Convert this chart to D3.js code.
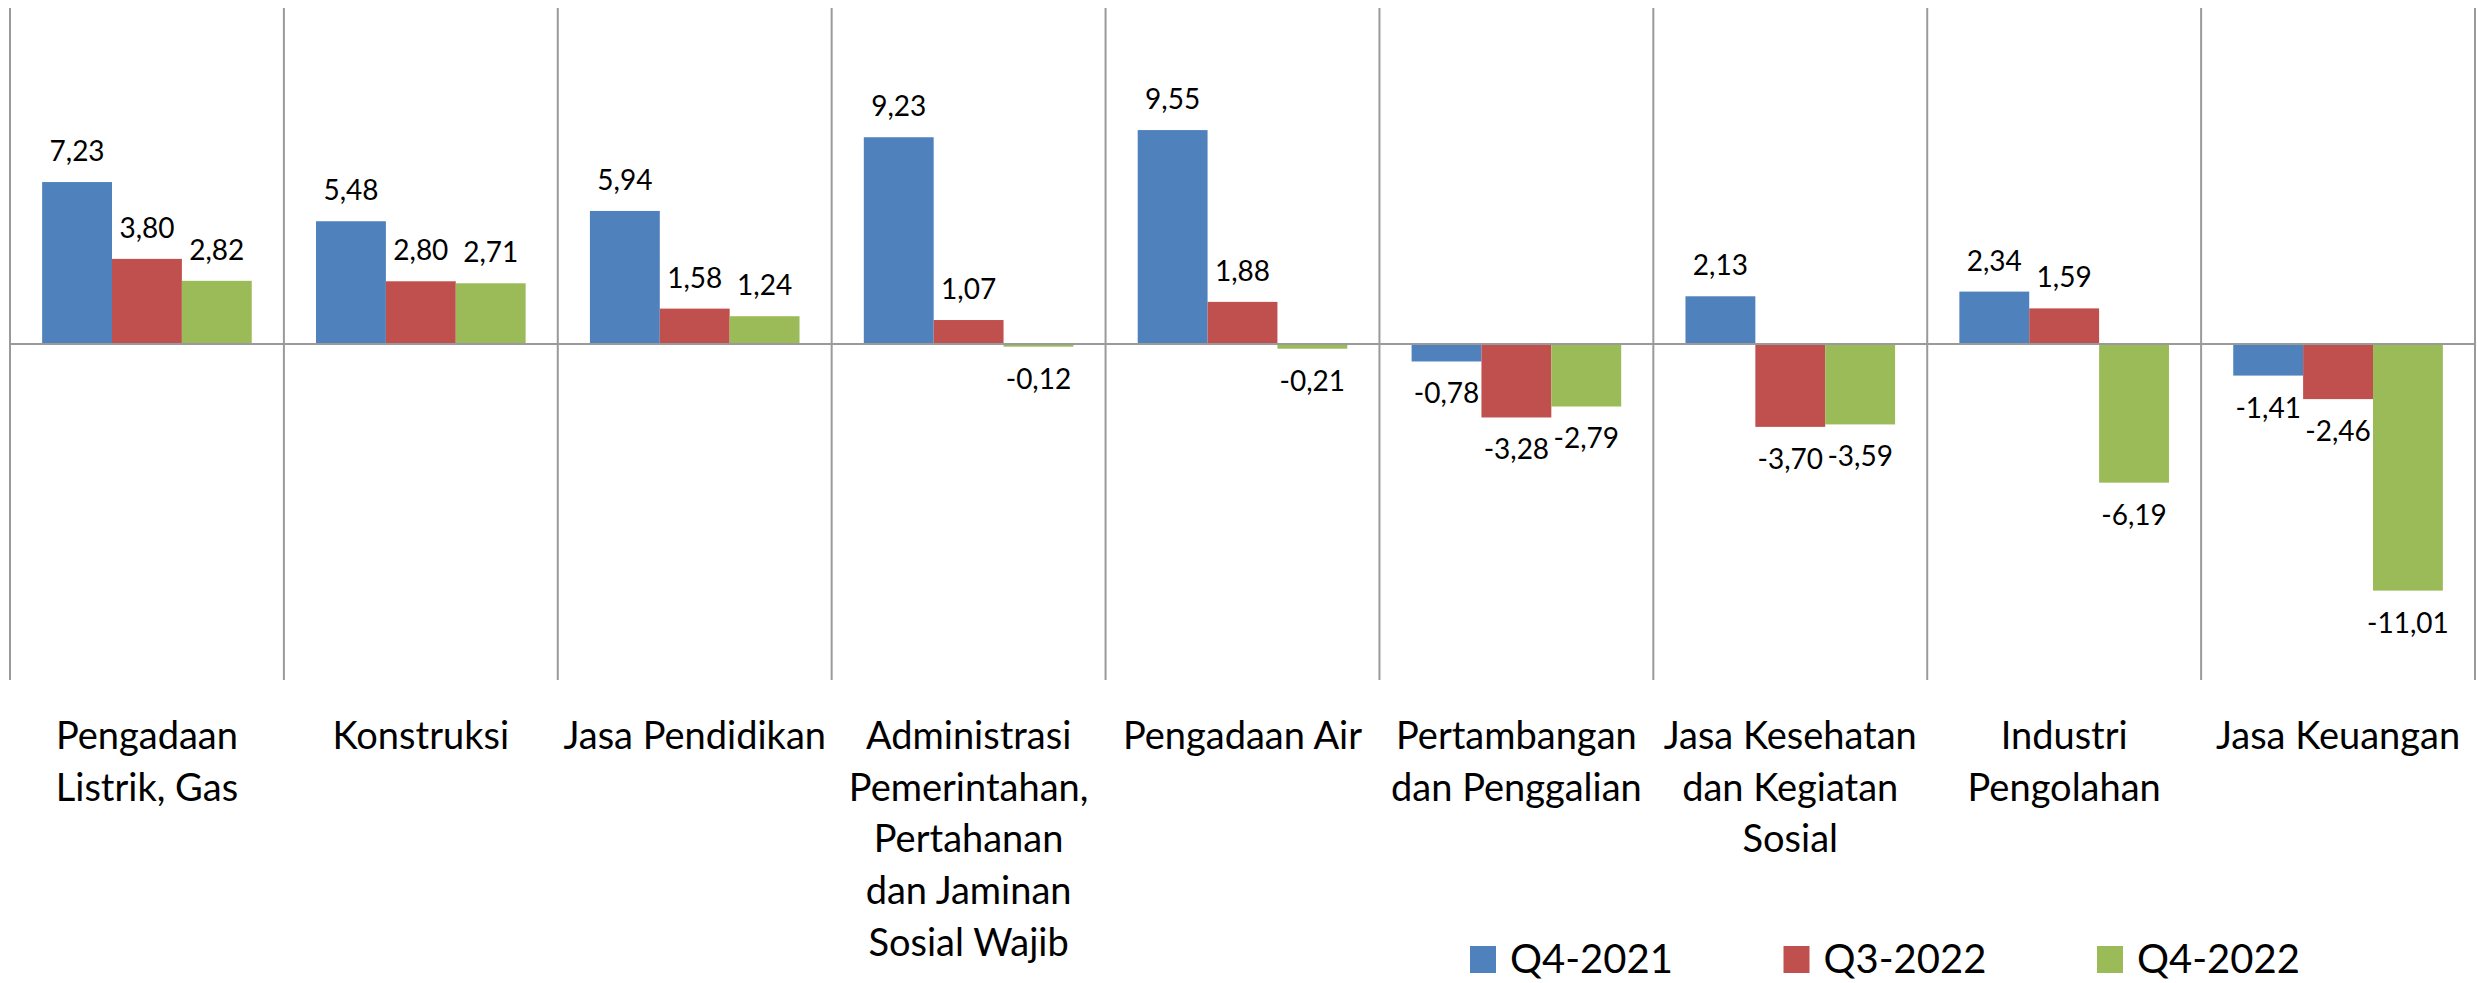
<!DOCTYPE html>
<html>
<head>
<meta charset="utf-8">
<script src="https://cdn.jsdelivr.net/npm/d3@7"></script>
<style>
  body { margin: 0; background: #fff; }
  text { font-family: Lato, "Open Sans", sans-serif; fill: #000; }
</style>
</head>
<body>
<div id="chart"></div>
<script>
var svgWidth = 2477;
var svgHeight = 983;

// categories, and how each one breaks over lines under the axis
var categories = ["Pengadaan Listrik, Gas", "Konstruksi", "Jasa Pendidikan",
    "Administrasi Pemerintahan, Pertahanan dan Jaminan Sosial Wajib", "Pengadaan Air",
    "Pertambangan dan Penggalian", "Jasa Kesehatan dan Kegiatan Sosial",
    "Industri Pengolahan", "Jasa Keuangan"];
var categoryLines = [
    ["Pengadaan", "Listrik, Gas"],
    ["Konstruksi"],
    ["Jasa Pendidikan"],
    ["Administrasi", "Pemerintahan,", "Pertahanan", "dan Jaminan", "Sosial Wajib"],
    ["Pengadaan Air"],
    ["Pertambangan", "dan Penggalian"],
    ["Jasa Kesehatan", "dan Kegiatan", "Sosial"],
    ["Industri", "Pengolahan"],
    ["Jasa Keuangan"]
];
var seriesNames = ["Q4-2021", "Q3-2022", "Q4-2022"];
var q4_2021 = [7.23, 5.48, 5.94, 9.23, 9.55, -0.78, 2.13, 2.34, -1.41];
var q3_2022 = [3.80, 2.80, 1.58, 1.07, 1.88, -3.28, -3.70, 1.59, -2.46];
var q4_2022 = [2.82, 2.71, 1.24, -0.12, -0.21, -2.79, -3.59, -6.19, -11.01];
var yDomain = [-15, 15];

var colors = ["#4F81BD", "#C0504D", "#9BBB59"];
var gridColor = "#9a9a9a";

var series = [q4_2021, q3_2022, q4_2022];
var margin = ({top: 8, left: 10, right: 2475, bottom: 680});

var x0 = d3.scaleBand()
    .domain(categories)
    .range([margin.left, margin.right])
    .padding(0);
var x1 = d3.scaleBand()
    .domain(seriesNames)
    .range([0, x0.bandwidth()])
    .paddingInner(0)
    .paddingOuter(0.46);
var y = d3.scaleLinear()
    .domain(yDomain)
    .range([margin.bottom, margin.top]);

var fmt = d3.format(".2f");
// comma decimal and a plain hyphen for the sign, as in the source
function label(v) { return fmt(v).replace("\u2212", "-").replace(".", ","); }

var svg = d3.select("#chart").append("svg")
    .attr("width", svgWidth)
    .attr("height", svgHeight);

// vertical separators between categories
var edges = categories.map(c => x0(c)).concat([x0(categories[categories.length - 1]) + x0.bandwidth()]);
svg.append("g").attr("class", "grid")
    .selectAll("line")
    .data(edges)
    .enter().append("line")
    .attr("x1", d => d).attr("x2", d => d)
    .attr("y1", y(yDomain[1])).attr("y2", y(yDomain[0]))
    .attr("stroke", gridColor)
    .attr("stroke-width", 2);

// bars
var rows = categories.map((c, i) => ({
    cat: c,
    vals: seriesNames.map((s, j) => ({name: s, value: series[j][i], idx: j}))
}));
var groups = svg.selectAll(".catg")
    .data(rows)
    .enter().append("g")
    .attr("class", "catg")
    .attr("transform", d => "translate(" + x0(d.cat) + ",0)");

groups.selectAll("rect")
    .data(d => d.vals)
    .enter().append("rect")
    .attr("x", d => x1(d.name))
    .attr("y", d => y(Math.max(0, d.value)))
    .attr("width", x1.bandwidth())
    .attr("height", d => Math.abs(y(d.value) - y(0)))
    .attr("fill", d => colors[d.idx]);

groups.selectAll(".vlabel")
    .data(d => d.vals)
    .enter().append("text")
    .attr("class", "vlabel")
    .attr("x", d => x1(d.name) + x1.bandwidth() / 2)
    .attr("y", d => d.value >= 0 ? y(d.value) - 21 : y(d.value) + 42)
    .attr("text-anchor", "middle")
    .style("font-size", "28px")
    .text(d => label(d.value));

// zero line
svg.append("line")
    .attr("x1", margin.left).attr("x2", margin.right)
    .attr("y1", y(0)).attr("y2", y(0))
    .attr("stroke", gridColor)
    .attr("stroke-width", 2);

// category labels
var catText = svg.append("g").attr("class", "cats")
    .selectAll("text")
    .data(categories)
    .enter().append("text")
    .attr("text-anchor", "middle")
    .style("font-size", "38px");
catText.selectAll("tspan")
    .data((d, i) => categoryLines[i].map(l => ({line: l, cat: d})))
    .enter().append("tspan")
    .attr("x", d => x0(d.cat) + x0.bandwidth() / 2)
    .attr("y", (d, i) => 749 + i * 51.7)
    .text(d => d.line);

// legend
var lg = svg.append("g").attr("class", "legend")
    .selectAll("g")
    .data(seriesNames)
    .enter().append("g")
    .attr("transform", (d, i) => "translate(" + (1470 + i * 313.5) + ",946)");
lg.append("rect")
    .attr("width", 26).attr("height", 27)
    .attr("fill", (d, i) => colors[i]);
lg.append("text")
    .attr("x", 40).attr("y", 27)
    .style("font-size", "40px")
    .text(d => d);
</script>
</body>
</html>
